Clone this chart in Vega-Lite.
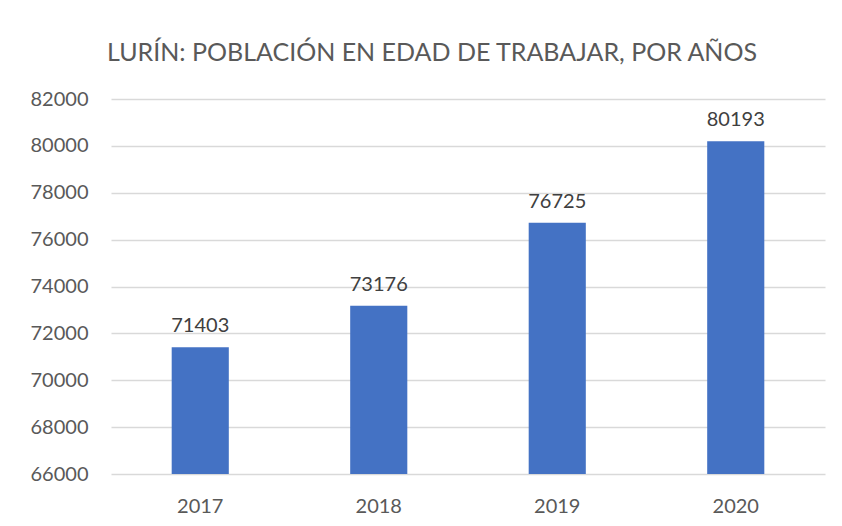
{
  "$schema": "https://vega.github.io/schema/vega-lite/v6.json",
  "width": 714,
  "height": 375,
  "autosize": "none",
  "padding": {"left": 111, "top": 99, "right": 17, "bottom": 52},
  "background": "white",
  "title": {
    "text": "LURÍN: POBLACIÓN EN EDAD DE TRABAJAR, POR AÑOS",
    "font": "Lato",
    "fontSize": 25,
    "fontWeight": "normal",
    "color": "#595959",
    "anchor": "middle",
    "dx": -36,
    "baseline": "alphabetic",
    "offset": 3
  },
  "data": {
    "values": [
      {"year": "2017", "value": 71403},
      {"year": "2018", "value": 73176},
      {"year": "2019", "value": 76725},
      {"year": "2020", "value": 80193}
    ]
  },
  "encoding": {
    "x": {
      "field": "year",
      "type": "nominal",
      "sort": null,
      "scale": {"paddingInner": 0.68, "paddingOuter": 0.34},
      "axis": {
        "title": null,
        "labelAngle": 0,
        "domain": false,
        "ticks": false,
        "labelFont": "Lato",
        "labelFontSize": 20,
        "labelColor": "#595959",
        "labelPadding": 22
      }
    },
    "y": {
      "field": "value",
      "type": "quantitative",
      "scale": {"domain": [66000, 82000], "nice": false, "zero": false},
      "axis": {
        "title": null,
        "values": [66000, 68000, 70000, 72000, 74000, 76000, 78000, 80000, 82000],
        "format": "d",
        "domain": false,
        "ticks": false,
        "grid": true,
        "gridColor": "#D9D9D9",
        "gridWidth": 1.3,
        "labelFont": "Lato",
        "labelFontSize": 20,
        "labelColor": "#595959",
        "labelPadding": 23
      }
    }
  },
  "layer": [
    {"mark": {"type": "bar", "color": "#4472C4", "clip": true}},
    {
      "mark": {
        "type": "text",
        "baseline": "bottom",
        "dy": -11,
        "font": "Lato",
        "fontSize": 20,
        "color": "#404040"
      },
      "encoding": {"text": {"field": "value", "type": "quantitative", "format": "d"}}
    }
  ],
  "config": {"view": {"stroke": null}}
}
